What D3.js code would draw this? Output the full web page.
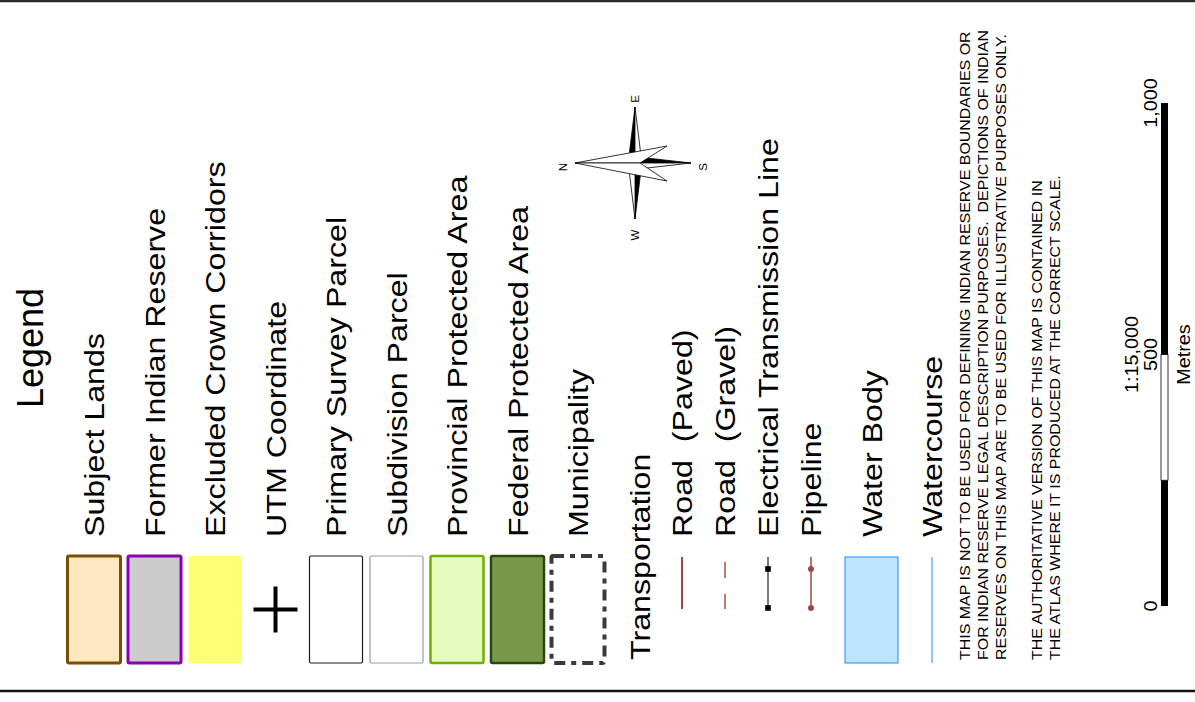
<!DOCTYPE html>
<html>
    <head>
        <meta charset='UTF-8'>
        <title>Legend</title>
        <script src='https://d3js.org/d3.v7.min.js'></script>
        <style type='text/css'>
        body { margin: 0; background: #fff; }
        svg text { font-family: 'Liberation Sans', Arial, sans-serif; fill: #000; white-space: pre; }
        </style>
    </head>
    <body>
        <div id="container"></div>
    </body>

    <script>
        // legend content
        var legendTitle = "Legend";
        var areaLabels = ["Subject Lands", "Former Indian Reserve", "Excluded Crown Corridors", "UTM Coordinate",
            "Primary Survey Parcel", "Subdivision Parcel", "Provincial Protected Area", "Federal Protected Area", "Municipality"];
        var areaKinds = ["subject", "former", "excluded", "utm", "primary", "subdivision", "provincial", "federal", "municipality"];
        var transportHeading = "Transportation";
        var transportLabels = ["Road  (Paved)", "Road  (Gravel)", "Electrical Transmission Line", "Pipeline"];
        var transportKinds = ["paved", "gravel", "transmission", "pipeline"];
        var waterLabels = ["Water Body", "Watercourse"];
        var waterKinds = ["waterbody", "watercourse"];
        var disclaimerLines = [
            "THIS MAP IS NOT TO BE USED FOR DEFINING INDIAN RESERVE BOUNDARIES OR",
            "FOR INDIAN RESERVE LEGAL DESCRIPTION PURPOSES.  DEPICTIONS OF INDIAN",
            "RESERVES ON THIS MAP ARE TO BE USED FOR ILLUSTRATIVE PURPOSES ONLY.",
            "",
            "THE AUTHORITATIVE VERSION OF THIS MAP IS CONTAINED IN",
            "THE ATLAS WHERE IT IS PRODUCED AT THE CORRECT SCALE."
        ];
        var compassLetters = ["N", "E", "S", "W"];
        var scaleRatio = "1:15,000";
        var scaleUnit = "Metres";
        var scaleTicks = [0, 500, 1000];
        var scaleSegments = [[0, 250, "dark"], [250, 500, "light"], [500, 1000, "dark"]];

        // styles per symbol kind
        var areaStyle = {
            subject:     {fill: "#ffe8bf", stroke: "#7a4e00", sw: 3},
            former:      {fill: "#cccccc", stroke: "#8c00b4", sw: 3},
            excluded:    {fill: "#ffff73", stroke: "none", sw: 0},
            primary:     {fill: "#ffffff", stroke: "#1a1a1a", sw: 1.2},
            subdivision: {fill: "#ffffff", stroke: "#9c9c9c", sw: 1.2},
            provincial:  {fill: "#e6fcbe", stroke: "#6eaf00", sw: 2.5},
            federal:     {fill: "#7a984c", stroke: "#2b470c", sw: 2.5},
            municipality:{fill: "none", stroke: "#3a3a3a", sw: 4, dash: "11,6,5,6"},
            waterbody:   {fill: "#bee5ff", stroke: "#3aa0f0", sw: 1.2}
        };

        var W = 1195, H = 702;
        var svg = d3.select("#container").append("svg")
            .attr("width", W)
            .attr("height", H);

        // frame lines
        svg.append("line").attr("x1", 0).attr("x2", W).attr("y1", 1).attr("y2", 1)
            .attr("stroke", "#2a2a2a").attr("stroke-width", 2.5);
        svg.append("line").attr("x1", 0).attr("x2", W).attr("y1", 691).attr("y2", 691)
            .attr("stroke", "#111").attr("stroke-width", 2.5);

        // rotated text helper (reads bottom to top)
        function vtext(x, y, str, size, stretch, anchor) {
            return svg.append("text")
                .attr("transform", "translate(" + x + "," + y + ") rotate(-90) scale(" + stretch + ",1)")
                .attr("font-size", size)
                .attr("text-anchor", anchor || "start")
                .text(str);
        }

        // column scales
        var areaX = d3.scaleLinear().domain([0, areaKinds.length - 1]).range([94, 578]);
        var transX = d3.scaleLinear().domain([0, transportKinds.length - 1]).range([682, 811]);
        var waterX = d3.scaleLinear().domain([0, waterKinds.length - 1]).range([871.5, 932]);
        var swY = d3.scaleLinear().domain([0, 1]).range([556, 663]);
        var lineY = d3.scaleLinear().domain([0, 1]).range([557, 609]);
        var labelY = 537, fs = 28, stretch = 1.15, swW = 53;

        vtext(43, 408, legendTitle, 36, 1.0);

        // area symbols
        areaKinds.forEach(function(k, i) {
            var cx = areaX(i);
            if (k == "utm") {
                var cy = (swY(0) + swY(1)) / 2;
                svg.append("line").attr("x1", cx - 22).attr("x2", cx + 22).attr("y1", cy).attr("y2", cy)
                    .attr("stroke", "#000").attr("stroke-width", 4);
                svg.append("line").attr("x1", cx).attr("x2", cx).attr("y1", cy - 23).attr("y2", cy + 23)
                    .attr("stroke", "#000").attr("stroke-width", 4);
            } else {
                var s = areaStyle[k];
                svg.append("rect")
                    .attr("x", cx - swW / 2).attr("y", swY(0))
                    .attr("width", swW).attr("height", swY(1) - swY(0))
                    .attr("rx", 1.5)
                    .attr("fill", s.fill).attr("stroke", s.stroke).attr("stroke-width", s.sw)
                    .attr("stroke-dasharray", s.dash || null);
            }
            vtext(cx + 10, labelY, areaLabels[i], fs, stretch);
        });

        // transportation
        vtext(650, 660, transportHeading, fs, stretch);
        transportKinds.forEach(function(k, i) {
            var x = transX(i);
            if (k == "paved") {
                svg.append("line").attr("x1", x).attr("x2", x).attr("y1", lineY(0)).attr("y2", lineY(1))
                    .attr("stroke", "#8e1c1c").attr("stroke-width", 1.6);
            } else if (k == "gravel") {
                svg.append("line").attr("x1", x).attr("x2", x).attr("y1", lineY(0) + 5).attr("y2", lineY(1))
                    .attr("stroke", "#a3451c").attr("stroke-width", 1.4).attr("stroke-dasharray", "16,16");
            } else {
                var col = k == "transmission" ? "#7a7a7a" : "#8e3d3d";
                svg.append("line").attr("x1", x).attr("x2", x).attr("y1", lineY(0)).attr("y2", lineY(1))
                    .attr("stroke", col).attr("stroke-width", k == "transmission" ? 2 : 1.4);
                [0.23, 0.98].forEach(function(t) {
                    if (k == "transmission") {
                        svg.append("rect").attr("x", x - 2.8).attr("y", lineY(t) - 2.8)
                            .attr("width", 5.6).attr("height", 5.6).attr("fill", "#000");
                    } else {
                        svg.append("circle").attr("cx", x).attr("cy", lineY(t)).attr("r", 3)
                            .attr("fill", "#9a4a48");
                    }
                });
            }
            vtext(x + 10, labelY, transportLabels[i], fs, stretch);
        });

        // water
        waterKinds.forEach(function(k, i) {
            var cx = waterX(i);
            if (k == "waterbody") {
                var s = areaStyle[k];
                svg.append("rect")
                    .attr("x", cx - swW / 2).attr("y", swY(0) + 1)
                    .attr("width", swW).attr("height", swY(1) - swY(0) - 1)
                    .attr("fill", s.fill).attr("stroke", s.stroke).attr("stroke-width", s.sw);
            } else {
                svg.append("line").attr("x1", cx).attr("x2", cx).attr("y1", swY(0) + 1).attr("y2", swY(1))
                    .attr("stroke", "#72baf2").attr("stroke-width", 1.6);
            }
            vtext(cx + 10, labelY, waterLabels[i], fs, stretch);
        });

        // disclaimer
        var discX = d3.scaleLinear().domain([0, disclaimerLines.length - 1]).range([970, 1060]);
        disclaimerLines.forEach(function(t, i) {
            if (t) vtext(discX(i), 660, t, 14, 1.14);
        });

        // compass rose
        var cc = {x: 635, y: 163};
        var u = d3.scaleLinear().domain([0, 1]).range([0, 1]);
        function pts(list) {
            return list.map(function(p) { return (cc.x + u(p[0])) + "," + (cc.y + u(p[1])); }).join(" ");
        }
        var rose = svg.append("g").attr("stroke", "#000").attr("stroke-width", 0.8).attr("stroke-linejoin", "miter");
        rose.append("polygon").attr("points", pts([[0, -56], [-5.5, -11], [0, 0]])).attr("fill", "#000");
        rose.append("polygon").attr("points", pts([[0, -56], [5.5, -11], [0, 0]])).attr("fill", "#fff");
        rose.append("polygon").attr("points", pts([[0, 56], [5.5, 11], [0, 0]])).attr("fill", "#000");
        rose.append("polygon").attr("points", pts([[0, 56], [-5.5, 11], [0, 0]])).attr("fill", "#fff");
        rose.append("polygon").attr("points", pts([[56, 0], [12, -5], [0, 0]])).attr("fill", "#000");
        rose.append("polygon").attr("points", pts([[56, 0], [12, 5], [0, 0]])).attr("fill", "#fff");
        rose.append("polygon").attr("points", pts([[-60, 0], [32, -17], [5, 0]])).attr("fill", "#fff");
        rose.append("polygon").attr("points", pts([[-60, 0], [32, 18], [5, 0]])).attr("fill", "#fff");
        var letterPos = {N: [-68, 4], E: [4, -64], S: [72, 4], W: [4, 72]};
        compassLetters.forEach(function(l) {
            vtext(cc.x + letterPos[l][0], cc.y + letterPos[l][1], l, 11.5, 1.0, "middle");
        });

        // scale bar
        var sb = d3.scaleLinear().domain([0, 1000]).range([606, 103]);
        scaleSegments.forEach(function(s) {
            svg.append("rect")
                .attr("x", 1161).attr("y", sb(s[1]))
                .attr("width", 7).attr("height", sb(s[0]) - sb(s[1]))
                .attr("fill", s[2] == "dark" ? "#000" : "#fff")
                .attr("stroke", s[2] == "dark" ? "none" : "#000")
                .attr("stroke-width", 0.8);
        });
        scaleTicks.forEach(function(t) {
            vtext(1157, sb(t), d3.format(",")(t), 18, 1.1, "middle");
        });
        vtext(1138, sb(500), scaleRatio, 18, 1.1, "middle");
        vtext(1190, sb(500), scaleUnit, 18, 1.1, "middle");
    </script>
</html>
